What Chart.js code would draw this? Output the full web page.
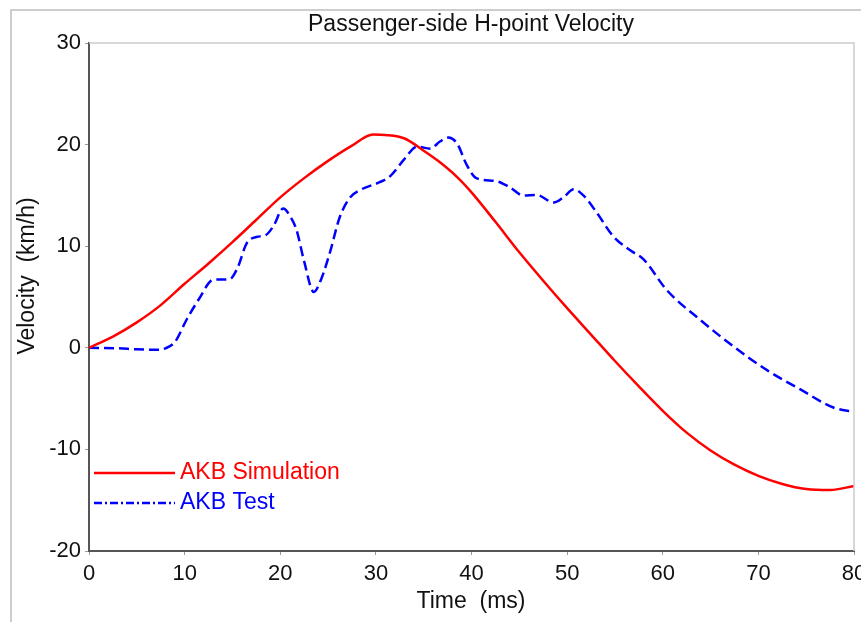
<!DOCTYPE html>
<html>
<head>
<meta charset="utf-8">
<script src="https://cdn.jsdelivr.net/npm/chart.js@4/dist/chart.umd.min.js"></script>
<style>
html,body{margin:0;padding:0;background:#fff;}
#wrap{width:861px;height:622px;position:relative;}
</style>
</head>
<body>
<div id="wrap"><canvas id="c" width="861" height="622"></canvas></div>
<script>
const chartTitle = "Passenger-side H-point Velocity";
const xTitle = "Time  (ms)";
const yTitle = "Velocity  (km/h)";
const seriesNames = ["AKB Simulation", "AKB Test"];

const simTime = [0,2.5,5,7.5,10,12.5,15,17.5,20,22.5,25,27.5,29.7,31,33,35,36.5,38.5,40,42.5,45,47.5,50,52.5,55,57.5,60,62.5,65,67.5,70,72.5,75,77.5,80];
const simVel  = [0,1.1,2.5,4.2,6.3,8.3,10.4,12.6,14.8,16.7,18.4,19.9,21.0,20.95,20.6,19.4,18.4,16.8,15.3,12.4,9.4,6.6,3.9,1.3,-1.3,-3.8,-6.2,-8.35,-10.1,-11.5,-12.6,-13.4,-13.9,-14.0,-13.6];

const testTime = [0,3,5,7,8,9,10.2,11.5,13,14.7,15.5,16.5,17.5,18.5,19.3,20.3,21,21.7,22.5,23.5,24.3,25.2,26.2,27.3,28.5,30.4,31.5,33,34.3,35.7,36.7,37.6,38.5,39.5,40.5,42.6,44,45.4,46.8,48.6,49.6,50.7,51.8,53.1,54.8,56.6,58,60.4,63.9,67.4,70.9,74.4,77.9,80];
const testVel  = [0,-0.05,-0.15,-0.2,-0.05,0.6,2.76,4.8,6.7,6.75,7.8,10.3,10.9,11.1,12.0,13.7,13.0,11.6,8.5,5.5,6.8,9.4,12.8,14.8,15.6,16.3,16.9,18.6,19.8,19.6,20.3,20.7,20.1,18.0,16.7,16.4,15.8,15.0,15.05,14.3,14.8,15.6,14.9,13.3,11.0,9.6,8.7,5.7,2.76,0.13,-2.2,-4.1,-5.9,-6.3];

const xTicks = [0,10,20,30,40,50,60,70,80];
const yTicks = [-20,-10,0,10,20,30];

const FONT = "'Liberation Sans', Arial, Helvetica, sans-serif";
const simColor = '#ff0000';
const testColor = '#0000ff';

const pts = (xs, ys) => xs.map((x, i) => ({x: x, y: ys[i]}));

const decor = {
  id: 'decor',
  beforeDraw(chart) {
    const ctx = chart.ctx;
    ctx.save();
    ctx.fillStyle = '#fff';
    ctx.fillRect(0, 0, chart.width, chart.height);
    ctx.strokeStyle = '#bdbdbd';
    ctx.lineWidth = 1.5;
    ctx.beginPath();
    ctx.moveTo(11, 622);
    ctx.lineTo(11, 10);
    ctx.lineTo(861, 10);
    ctx.stroke();
    ctx.restore();
  },
  afterDatasetsDraw(chart) {
    const ctx = chart.ctx;
    const a = chart.chartArea;
    ctx.save();
    ctx.strokeStyle = '#cccccc';
    ctx.lineWidth = 1.5;
    ctx.beginPath();
    ctx.moveTo(a.left, a.top);
    ctx.lineTo(a.right, a.top);
    ctx.lineTo(a.right, a.bottom);
    ctx.stroke();
    ctx.fillStyle = '#111';
    ctx.font = '23px ' + FONT;
    ctx.textAlign = 'center';
    ctx.textBaseline = 'middle';
    ctx.fillText(chartTitle, 471, 25);
    ctx.fillText(xTitle, 471, 602);
    ctx.save();
    ctx.translate(28, 276);
    ctx.rotate(-Math.PI / 2);
    ctx.fillText(yTitle, 0, 0);
    ctx.restore();
    const items = [
      {name: seriesNames[0], color: simColor, dash: [], y: 473},
      {name: seriesNames[1], color: testColor, dash: [8, 3, 2, 3], y: 503}
    ];
    items.forEach(it => {
      ctx.strokeStyle = it.color;
      ctx.lineWidth = 2.5;
      ctx.setLineDash(it.dash);
      ctx.beginPath();
      ctx.moveTo(94, it.y);
      ctx.lineTo(175, it.y);
      ctx.stroke();
      ctx.setLineDash([]);
      ctx.fillStyle = it.color;
      ctx.textAlign = 'left';
      ctx.fillText(it.name, 180, it.y);
    });
    ctx.restore();
  }
};

new Chart(document.getElementById('c'), {
  type: 'line',
  data: {
    datasets: [
      {
        label: seriesNames[0],
        data: pts(simTime, simVel),
        borderColor: simColor,
        borderWidth: 2.5,
        pointRadius: 0,
        cubicInterpolationMode: 'monotone',
        fill: false
      },
      {
        label: seriesNames[1],
        data: pts(testTime, testVel),
        borderColor: testColor,
        borderWidth: 2.5,
        borderDash: [10, 5],
        pointRadius: 0,
        cubicInterpolationMode: 'monotone',
        fill: false
      }
    ]
  },
  options: {
    responsive: false,
    animation: false,
    events: [],
    layout: {padding: {left: 0, top: 43, right: 7, bottom: 0}},
    plugins: {legend: {display: false}, title: {display: false}, tooltip: {enabled: false}},
    scales: {
      x: {
        type: 'linear',
        min: 0, max: 80,
        afterFit(s) { s.height = 71; s.paddingLeft = 0; s.paddingRight = 0; },
        afterBuildTicks(s) { s.ticks = xTicks.map(v => ({value: v})); },
        border: {display: true, color: '#555', width: 2},
        grid: {drawOnChartArea: false, drawTicks: true, tickLength: 4, color: '#999'},
        ticks: {color: '#111', font: {family: FONT, size: 22}, padding: 6, maxRotation: 0}
      },
      y: {
        type: 'linear',
        min: -20, max: 30,
        afterFit(s) { s.width = 89; s.paddingTop = 0; s.paddingBottom = 0; },
        afterBuildTicks(s) { s.ticks = yTicks.map(v => ({value: v})); },
        border: {display: true, color: '#555', width: 2},
        grid: {drawOnChartArea: false, drawTicks: true, tickLength: 4, color: '#999'},
        ticks: {color: '#111', font: {family: FONT, size: 22}, padding: 4}
      }
    }
  },
  plugins: [decor]
});
</script>
</body>
</html>
